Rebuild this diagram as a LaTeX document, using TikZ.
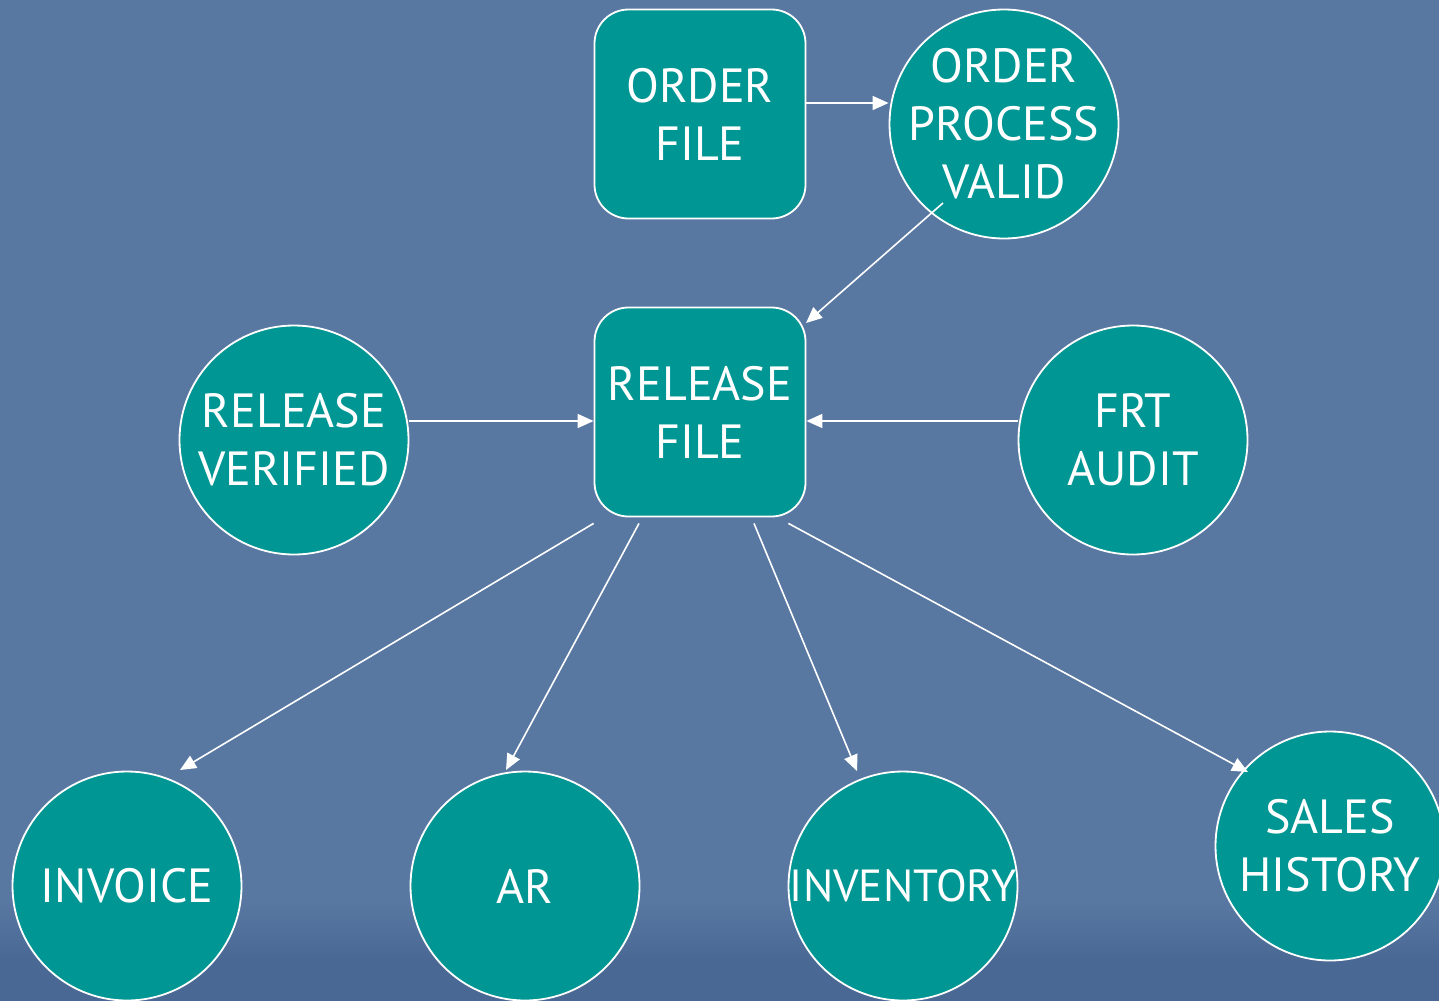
\documentclass[tikz,border=0pt]{standalone}
\usepackage{fontspec}
\setmainfont{PT Sans}
\usetikzlibrary{arrows.meta}
\definecolor{bgblue}{RGB}{88,120,162}
\definecolor{bgdark}{RGB}{74,104,148}
\definecolor{teal}{RGB}{0,150,148}
\begin{document}
\begin{tikzpicture}[x=1pt,y=-1pt,
  every node/.style={font=\fontsize{48}{58}\selectfont, text=white, align=center},
  filebox/.style={draw=white, line width=1.8pt, fill=teal, rounded corners=34pt, minimum width=211pt, minimum height=209pt, inner sep=0pt},
  procircle/.style={draw=white, line width=1.8pt, fill=teal, circle, minimum size=229pt, inner sep=0pt},
  flow/.style={draw=white, line width=1.6pt, -{Triangle[length=16pt,width=14pt]}}]
\fill[bgblue] (0,0) rectangle (1439,1001);
\shade[top color=bgblue, bottom color=bgdark] (0,900) rectangle (1439,960);
\fill[bgdark] (0,960) rectangle (1439,1001);
\useasboundingbox (0,0) rectangle (1439,1001);
\begin{scope}
\clip (0,0) rectangle (1439,1001);
\node[filebox] (of) at (700,114) {ORDER\\FILE};
\node[procircle, label={center:ORDER\\PROCESS\\VALID}] (opv) at (1004,124) {};
\node[filebox] (rf) at (700,412) {RELEASE\\FILE};
\node[procircle, label={center:RELEASE\\VERIFIED}] (rv) at (294,440) {};
\node[procircle, label={center:FRT\\AUDIT}] (frt) at (1133,440) {};
\node[procircle, label={center:INVOICE}] (inv) at (127,886) {};
\node[procircle, label={center:AR}] (ar) at (525,886) {};
\node[procircle, label={[font=\fontsize{45}{58}\selectfont]center:INVENTORY}] (invt) at (903,886) {};
\node[procircle, label={center:SALES\\HISTORY}] (sh) at (1330,846) {};
\coordinate (opvs) at (943,203);
\coordinate (rftr) at (806,323);
\coordinate (invtip) at (180,770);
\coordinate (artip) at (506,770);
\coordinate (invttip) at (857,771);
\coordinate (shtip) at (1248,772);
\draw[flow] (of.east |- 0,103) -- (opv.west |- 0,103);
\draw[flow] (opvs) -- (rftr);
\draw[flow] (rv.east |- 0,421) -- (rf.west |- 0,421);
\draw[flow] (frt.west |- 0,421) -- (rf.east |- 0,421);
\draw[flow] (rf.south west) ++(0,6) -- (invtip);
\draw[flow] (rf.south) ++(-61,6) -- (artip);
\draw[flow] (rf.south) ++(54,6) -- (invttip);
\draw[flow] (rf.south east) ++(-18,6) -- (shtip);
\end{scope}
\end{tikzpicture}
\end{document}
